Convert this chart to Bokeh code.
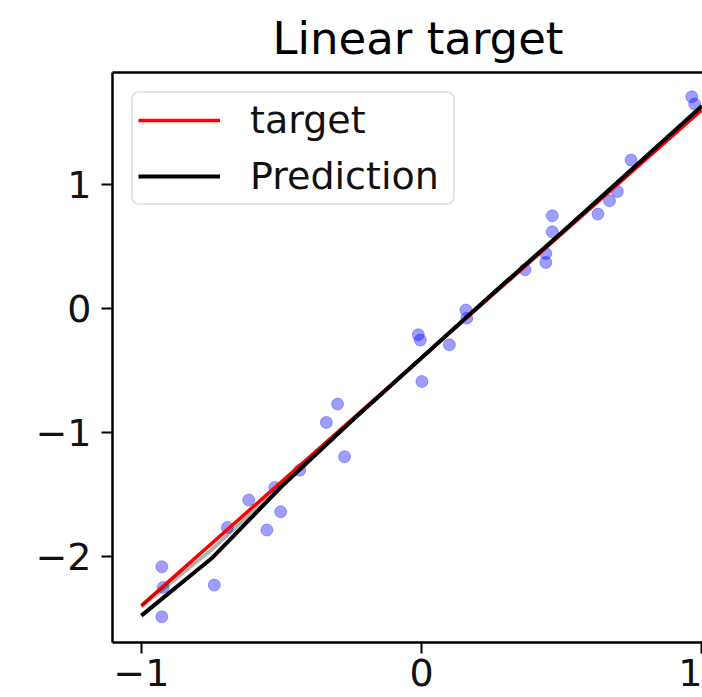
from bokeh.plotting import figure
from bokeh.models import Range1d, LinearAxis, FixedTicker, Legend, LegendItem
from bokeh.embed import file_html
from bokeh.resources import INLINE

# Noisy samples drawn around the linear target
sample_x = [-0.927, -0.922, -0.927, -0.740, -0.693, -0.617, -0.552, -0.524, -0.503,
            -0.435, -0.340, -0.300, -0.275, 0.001, -0.012, -0.005, 0.099, 0.158,
            0.161, 0.369, 0.443, 0.443, 0.466, 0.466, 0.629, 0.670, 0.698, 0.747,
            0.964, 0.974]
sample_y = [-2.086, -2.253, -2.490, -2.234, -1.769, -1.548, -1.790, -1.447, -1.643,
            -1.307, -0.922, -0.774, -1.199, -0.592, -0.215, -0.258, -0.296, -0.016,
            -0.081, 0.309, 0.440, 0.368, 0.744, 0.615, 0.758, 0.865, 0.940, 1.194,
            1.704, 1.645]

# Target line y = 2x - 0.4
target_x = [-1.0, 1.0]
target_y = [-2.4, 1.6]

# Model prediction evaluated on a grid
grid_x = [-1.0, -0.75, -0.5, -0.25, 0.0, 0.25, 0.5, 0.75, 1.0]
pred_y = [-2.48, -2.02, -1.44, -0.91, -0.40, 0.11, 0.61, 1.12, 1.63]
pred_alt_y = [-2.41, -1.95, -1.43, -0.91, -0.40, 0.11, 0.61, 1.12, 1.63]

x_ticks = [-1, 0, 1]
y_ticks = [-2, -1, 0, 1]
tick_text = {-2: "\u22122", -1: "\u22121", 0: "0", 1: "1"}

FONT = "DejaVu Sans"

p = figure(width=702, height=697, output_backend="svg", toolbar_location=None,
           x_range=Range1d(-1.103, 1.002), y_range=Range1d(-2.697, 1.90),
           min_border_left=112, min_border_right=0, min_border_top=72,
           min_border_bottom=55, x_axis_location=None, y_axis_location=None,
           title="Linear target")
p.outline_line_color = None
p.grid.visible = False
p.background_fill_color = "white"
p.border_fill_color = "white"

p.title.text_font = FONT
p.title.text_font_size = "45px"
p.title.text_font_style = "normal"
p.title.text_color = "black"
p.title.align = "left"
p.title.offset = 160
p.title.standoff = 16


def style_axis(ax, ticks, show_labels=True):
    ax.ticker = FixedTicker(ticks=ticks)
    ax.axis_line_color = "black"
    ax.axis_line_width = 2.5
    ax.major_tick_line_color = "black" if ticks else None
    ax.major_tick_line_width = 2
    ax.major_tick_out = 11
    ax.major_tick_in = 0
    ax.minor_tick_line_color = None
    ax.major_label_text_font = FONT
    ax.major_label_text_font_size = "38px" if show_labels else "0px"
    ax.major_label_text_color = "#111111"
    ax.major_label_standoff = 8
    ax.major_label_overrides = {k: v for k, v in tick_text.items() if k in ticks}


xaxis = LinearAxis()
style_axis(xaxis, x_ticks)
xaxis.major_label_standoff = 5
p.add_layout(xaxis, "below")

yaxis = LinearAxis()
style_axis(yaxis, y_ticks)
yaxis.major_label_standoff = 10
p.add_layout(yaxis, "left")

top_spine = LinearAxis()
style_axis(top_spine, [], show_labels=False)
top_spine.major_tick_out = 0
p.add_layout(top_spine, "above")

p.scatter(sample_x, sample_y, size=12, fill_color="#0000ff", fill_alpha=0.38,
          line_color="#0000ff", line_alpha=0.3, line_width=1)

r_target = p.line(target_x, target_y, line_color="red", line_width=3.5)
p.line(grid_x, pred_alt_y, line_color="black", line_width=3.5, line_alpha=0.3)
r_pred = p.line(grid_x, pred_y, line_color="black", line_width=4)

legend = Legend(items=[LegendItem(label="target", renderers=[r_target]),
                       LegendItem(label="Prediction", renderers=[r_pred])],
                location="top_left")
legend.margin = 19
legend.padding = 5
legend.spacing = 12
legend.glyph_width = 82
legend.glyph_height = 40
legend.label_standoff = 30
legend.label_width = 198
legend.label_text_font = FONT
legend.label_text_font_size = "38px"
legend.label_text_color = "#111111"
legend.border_line_color = "#cccccc"
legend.border_line_width = 2
legend.background_fill_alpha = 0.8
legend.border_radius = 8
p.add_layout(legend)

open("out.html", "w").write(file_html(p, INLINE))
